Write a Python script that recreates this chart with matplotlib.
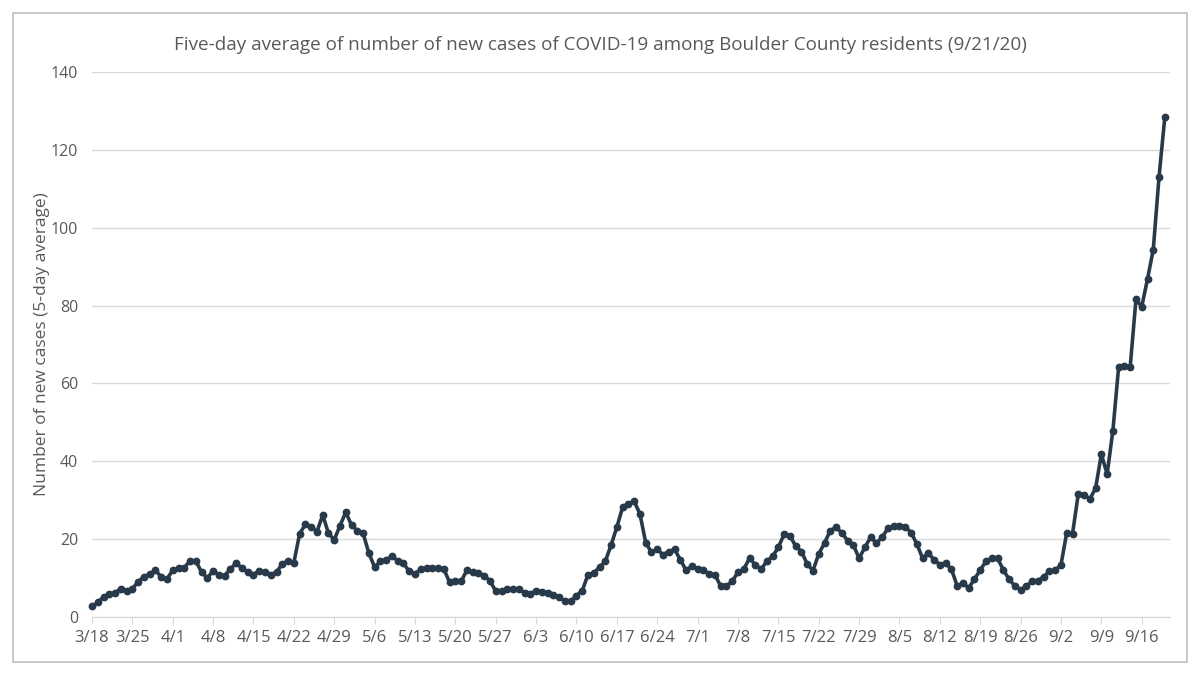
import numpy as np
import pandas as pd
import matplotlib
matplotlib.use('Agg')
import matplotlib.pyplot as plt
from matplotlib.patches import Rectangle

# daily dates 3/18 .. 9/20 (2020)
dates = pd.date_range('2020-03-18', '2020-09-20', freq='D')

# five-day average of new cases
cases = [
    2.7, 3.8, 5.1, 6.0, 6.2, 7.3, 6.7,
    7.3, 9.0, 10.4, 11.0, 12.0, 10.3, 9.8,
    12.0, 12.6, 12.7, 14.4, 14.4, 11.5, 10.0,
    11.9, 10.8, 10.6, 12.4, 13.8, 12.6, 11.5,
    10.9, 11.9, 11.5, 10.9, 11.5, 13.7, 14.4,
    14.0, 21.4, 23.8, 23.2, 21.9, 26.2, 21.5,
    19.8, 23.5, 26.9, 23.6, 22.2, 21.5, 16.4,
    12.8, 14.3, 14.7, 15.6, 14.5, 13.8, 11.7,
    11.1, 12.3, 12.5, 12.6, 12.6, 12.3, 8.9,
    9.3, 9.2, 12.0, 11.5, 11.3, 10.6, 9.3,
    6.6, 6.8, 7.2, 7.2, 7.2, 6.2, 6.0,
    6.8, 6.4, 6.2, 5.7, 5.1, 4.0, 4.0,
    5.5, 6.8, 10.9, 11.3, 12.8, 14.3, 18.5,
    23.1, 28.2, 29.1, 29.7, 26.5, 19.1, 16.6,
    17.4, 16.0, 16.8, 17.4, 14.7, 12.0, 13.0,
    12.4, 12.0, 11.1, 10.9, 7.9, 7.9, 9.2,
    11.5, 12.3, 15.1, 13.4, 12.3, 14.3, 15.6,
    17.9, 21.3, 20.9, 18.2, 16.8, 13.6, 11.9,
    16.2, 19.0, 22.2, 23.0, 21.7, 19.6, 18.5,
    15.1, 17.9, 20.5, 19.0, 20.5, 22.8, 23.4,
    23.4, 23.2, 21.7, 18.8, 15.1, 16.4, 14.7,
    13.4, 13.8, 12.3, 8.0, 8.7, 7.5, 9.7,
    12.1, 14.3, 15.1, 15.1, 12.1, 9.7, 8.0,
    7.0, 7.9, 9.2, 9.3, 10.4, 11.7, 12.0,
    13.4, 21.7, 21.4, 31.6, 31.4, 30.3, 33.1,
    41.8, 36.7, 47.9, 64.3, 64.4, 64.3, 81.6,
    79.7, 86.8, 94.4, 113.1, 128.4,
]

tick_labels = ['3/18', '3/25', '4/1', '4/8', '4/15', '4/22', '4/29', '5/6',
               '5/13', '5/20', '5/27', '6/3', '6/10', '6/17', '6/24', '7/1',
               '7/8', '7/15', '7/22', '7/29', '8/5', '8/12', '8/19', '8/26',
               '9/2', '9/9', '9/16']
y_ticks = [0, 20, 40, 60, 80, 100, 120, 140]

txt = '#595959'
plt.rcParams['font.family'] = ['Open Sans', 'DejaVu Sans']

fig = plt.figure(figsize=(12, 6.75), dpi=100)
fig.patches.append(Rectangle((13 / 1200, 13 / 675), 1174 / 1200, 649 / 675,
                             transform=fig.transFigure, fill=False,
                             edgecolor='#bfbfbf', linewidth=1.2))

ax = fig.add_axes([92 / 1200, 58 / 675, 1078 / 1200, 545 / 675])
x = np.arange(len(dates))
ax.plot(x, cases, color='#283a4a', linewidth=2.6, marker='o', markersize=4.6,
        clip_on=False, zorder=3)

ax.set_ylim(0, 140)
ax.set_yticks(y_ticks)
ax.set_xlim(0, len(dates) - 0.1)
tick_pos = [i for i, d in enumerate(dates) if f'{d.month}/{d.day}' in tick_labels]
ax.set_xticks(tick_pos)
ax.set_xticklabels(tick_labels)

ax.grid(axis='y', color='#d9d9d9', linewidth=1)
ax.set_axisbelow(True)
for s in ['top', 'right', 'left']:
    ax.spines[s].set_visible(False)
ax.spines['bottom'].set_color('#d9d9d9')
ax.tick_params(axis='y', length=0, labelsize=11.5, labelcolor=txt, pad=10)
ax.tick_params(axis='x', length=5, color='#d9d9d9', labelsize=12, labelcolor=txt, pad=4)

ax.set_ylabel('Number of new cases (5-day average)', fontsize=12.5, color=txt)
ax.yaxis.set_label_coords(-0.039, 0.5)
fig.text(0.5, 1 - 45 / 675, 'Five-day average of number of new cases of COVID-19 among Boulder County residents (9/21/20)',
         ha='center', va='center', fontsize=13.6, color=txt)

fig.savefig('out.png', dpi=100)
